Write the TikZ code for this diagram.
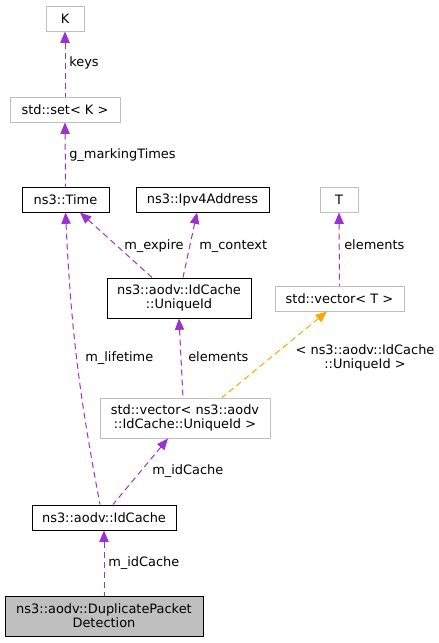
\documentclass[tikz,border=0pt]{standalone}
\usepackage{fontspec}
\setmainfont{DejaVu Sans}
\usetikzlibrary{arrows.meta,calc}
\definecolor{memcol}{HTML}{9A32CD}
\definecolor{tmplcol}{HTML}{FFA500}
\definecolor{extgrey}{HTML}{BFBFBF}
\definecolor{selfgrey}{HTML}{BFBFBF}
\tikzset{
  cls/.style 2 args={draw=black, line width=0.75pt, fill=white, inner sep=0pt, align=center,
    minimum width=#1*0.75pt, minimum height=#2*0.75pt},
  ext/.style 2 args={cls={#1}{#2}, draw=extgrey, line width=0.7pt},
  member/.style={draw=memcol, line width=0.75pt, dash pattern=on 4.5pt off 3pt,
    {Triangle[length=8.5pt,width=7pt,fill=memcol]}-},
  tmplarg/.style={member, draw=tmplcol, {Triangle[length=8.5pt,width=7pt,fill=tmplcol]}-},
  lbl/.style={inner sep=0pt, anchor=base west}
}

\begin{document}
\begin{tikzpicture}[x=0.75pt,y=-0.75pt,font=\fontsize{9.7}{10.6}\selectfont]
  \useasboundingbox (0,0) rectangle (439,643);

  % classes
  \node[ext={38}{25}] (k) at (65,18.5) {K};
  \node[ext={110}{25}] (set) at (65,109.5) {std::set\textless{} K \textgreater};
  \node[cls={87}{25}] (time) at (65.5,199.5) {ns3::Time};
  \node[cls={133}{25}] (ipv4) at (202.5,199.5) {ns3::Ipv4Address};
  \node[ext={38}{25}] (t) at (339,199.5) {T};
  \node[cls={144}{40}] (uid) at (179,298) {ns3::aodv::IdCache\\::UniqueId};
  \node[ext={129}{25}] (vect) at (339.5,298.5) {std::vector\textless{} T \textgreater};
  \node[ext={170}{40}] (vecu) at (185,418) {std::vector\textless{} ns3::aodv\\::IdCache::UniqueId \textgreater};
  \node[cls={144}{25}] (idcache) at (104,517.5) {ns3::aodv::IdCache};
  \node[cls={198}{40}, fill=selfgrey] (dpd) at (104,616) {ns3::aodv::DuplicatePacket\\Detection};

  % members
  \draw[member] (k.south) -- (set.north);
  \draw[member] (set.south) -- (time.north);
  \draw[member] (time.south) to[bend right=4] ($(idcache.north)+(-4,0)$);
  \draw[member] ($(time.south)+(14.5,0)$) -- ($(uid.north)+(-27,0)$);
  \draw[member] ($(ipv4.south)+(-5.5,0)$) -- ($(uid.north)+(4,0)$);
  \draw[member] (t.south) -- (vect.north);
  \draw[member] (uid.south) -- ($(vecu.north)+(-2,0)$);
  \draw[tmplarg] ($(vect.south)+(-12.5,0)$) -- ($(vecu.north)+(37,0)$);
  \draw[member] ($(vecu.south)+(-17,0)$) -- ($(idcache.north)+(9,0)$);
  \draw[member] (idcache.south) -- (dpd.north);

  % labels
  \node[lbl] (lkeys) at (69,66) {keys};
  \node[lbl] (lmark) at (69,158) {g\_markingTimes};
  \node[lbl] (lexpire) at (124,249) {m\_expire};
  \node[lbl] (lcontext) at (199,249) {m\_context};
  \node[lbl] (lelemt) at (344,249) {elements};
  \node[lbl] (llife) at (85,361) {m\_lifetime};
  \node[lbl] (lelemu) at (188,361) {elements};
  \node[inner sep=0pt, align=center] (ltmpl) at (365,358) {\textless{} ns3::aodv::IdCache\\::UniqueId \textgreater};
  \node[lbl] (lidc) at (152,474) {m\_idCache};
  \node[lbl] (lidd) at (108,566) {m\_idCache};
\end{tikzpicture}
\end{document}
